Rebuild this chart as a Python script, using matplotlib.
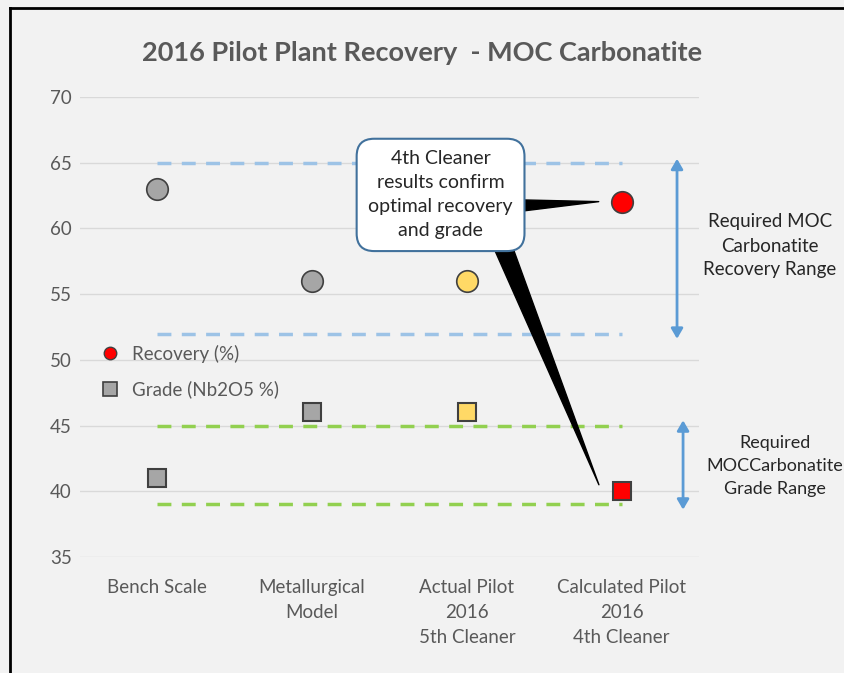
import matplotlib
matplotlib.use("Agg")
import matplotlib.pyplot as plt
from matplotlib.lines import Line2D

plt.rcParams['font.family'] = ['Lato', 'DejaVu Sans']

categories = ["Bench Scale", "Metallurgical\nModel", "Actual Pilot\n2016\n5th Cleaner",
              "Calculated Pilot\n2016\n4th Cleaner"]
recovery = [63, 56, 56, 62]
grade = [41, 46, 46, 40]
point_colors = ["#a6a6a6", "#a6a6a6", "#ffd966", "#ff0000"]
recovery_range = [52, 65]
grade_range = [39, 45]
yticks = [35, 40, 45, 50, 55, 60, 65, 70]

BG = "#f2f2f2"
TXT = "#595959"

fig = plt.figure(figsize=(8.45, 6.73), dpi=100, facecolor=BG)
ax = fig.add_axes([80/845, (673-557)/673, 619/845, 460/673])
ax.set_facecolor(BG)
ax.set_xlim(-0.5, 3.5)
ax.set_ylim(35, 70)
for s in ax.spines.values():
    s.set_visible(False)
ax.set_yticks(yticks)
ax.yaxis.grid(True, color="#d9d9d9", lw=1)
ax.set_axisbelow(True)
ax.tick_params(axis='both', length=0, labelsize=13.5, colors=TXT, pad=6)
ax.set_xticks(range(len(categories)))
ax.set_xticklabels(categories, linespacing=1.55)
ax.tick_params(axis='x', pad=16)

x = list(range(len(categories)))
# range lines
for v in recovery_range:
    ax.plot([x[0], x[-1]], [v, v], ls=(0, (4, 3)), color="#9dc3e6", lw=2.5, zorder=2)
for v in grade_range:
    ax.plot([x[0], x[-1]], [v, v], ls=(0, (4, 3)), color="#92d050", lw=2.5, zorder=2)

for xi, r, g, c in zip(x, recovery, grade, point_colors):
    ax.plot(xi, r, 'o', ms=15.5, mfc=c, mec="#404040", mew=1.2, zorder=4, clip_on=False)
    ax.plot(xi, g, 's', ms=13, mfc=c, mec="#404040", mew=1.5, zorder=4, clip_on=False)

# callout pointers
ax.annotate("", xy=(2.87, recovery[3] + 0.05), xytext=(2.28, 61.7),
            arrowprops=dict(arrowstyle="wedge,tail_width=0.9,shrink_factor=0.5",
                            fc="black", ec="black"), zorder=5, annotation_clip=False)
ax.annotate("", xy=(2.86, grade[3] + 0.3), xytext=(2.22, 59.0),
            arrowprops=dict(arrowstyle="wedge,tail_width=1.3,shrink_factor=0.5",
                            fc="black", ec="black"), zorder=5, annotation_clip=False)
ax.text(1.83, 62.55, "4th Cleaner\nresults confirm\noptimal recovery\nand grade",
        ha='center', va='center', fontsize=14, color="#262626", linespacing=1.5,
        zorder=6,
        bbox=dict(boxstyle="round,pad=0.6,rounding_size=0.9", fc="white",
                  ec="#41719c", lw=1.5))

# range arrows
ax.annotate("", xy=(3.358, 51.6), xytext=(3.358, 65.3),
            arrowprops=dict(arrowstyle="<|-|>,head_length=0.6,head_width=0.35",
                            color="#5b9bd5", lw=2, shrinkA=0, shrinkB=0),
            annotation_clip=False)
ax.annotate("", xy=(3.397, 38.6), xytext=(3.397, 45.4),
            arrowprops=dict(arrowstyle="<|-|>,head_length=0.6,head_width=0.35",
                            color="#5b9bd5", lw=2, shrinkA=0, shrinkB=0),
            annotation_clip=False)
fig.text(770/845, 1 - 246/673, "Required MOC\nCarbonatite\nRecovery Range",
         ha='center', va='center', fontsize=13.5, color="#262626", linespacing=1.5)
fig.text(775/845, 1 - 466/673, "Required\nMOCCarbonatite\nGrade Range",
         ha='center', va='center', fontsize=13, color="#262626", linespacing=1.55)

# legend
handles = [Line2D([], [], marker='o', ls='', ms=9, mfc="#ff0000", mec="#404040", mew=1),
           Line2D([], [], marker='s', ls='', ms=10, mfc="#a6a6a6", mec="#404040", mew=1.2)]
leg = ax.legend(handles, ["Recovery (%)", "Grade (Nb2O5 %)"], loc='center left',
                bbox_to_anchor=(0.0, 0.403), frameon=False, fontsize=13.5,
                labelspacing=0.95, handletextpad=0.5, handlelength=1.4)
for t in leg.get_texts():
    t.set_color(TXT)

fig.text(0.5, 1 - 53/673, "2016 Pilot Plant Recovery  - MOC Carbonatite", ha='center',
         va='center', fontsize=19.5, fontweight='bold', color=TXT)

# outer border (left and top)
fig.add_artist(Line2D([10/845, 10/845], [0, 1 - 8/673], transform=fig.transFigure,
                      color="black", lw=2))
fig.add_artist(Line2D([10/845, 1], [1 - 8/673, 1 - 8/673], transform=fig.transFigure,
                      color="black", lw=2))

fig.savefig("out.png", dpi=100, facecolor=BG)
